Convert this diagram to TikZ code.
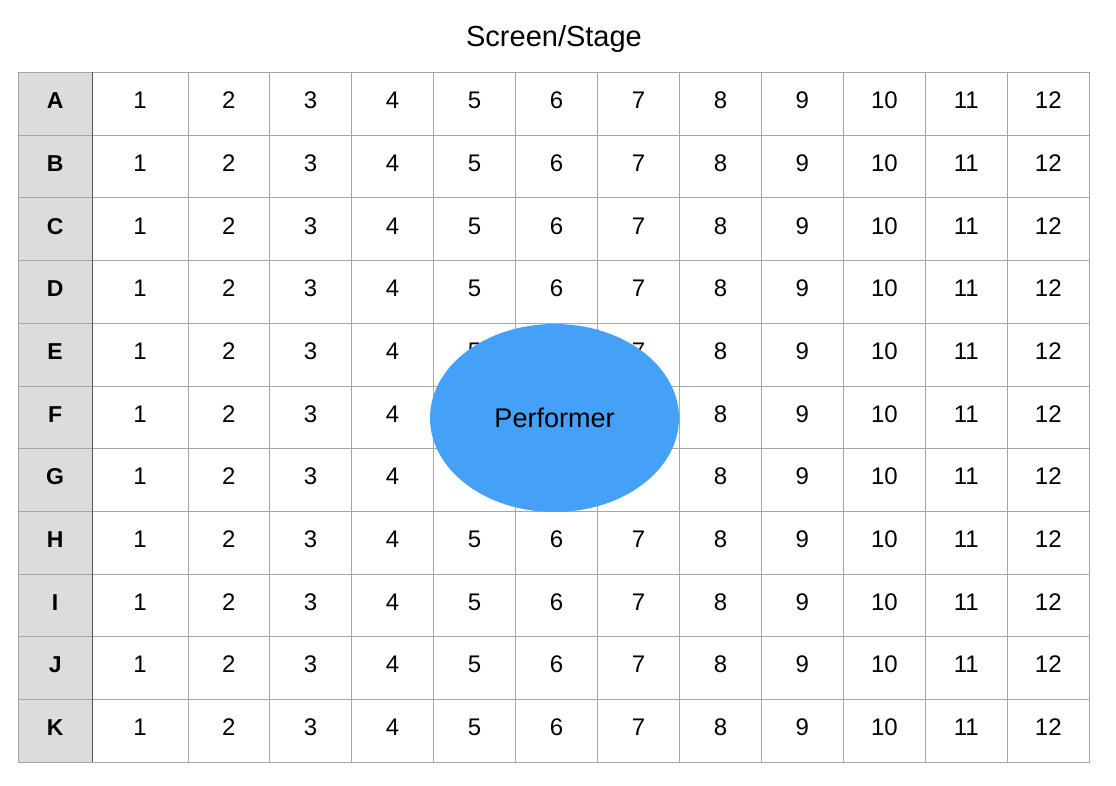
\documentclass[tikz,border=0pt]{standalone}
\usepackage{fontspec}
\setmainfont{Liberation Sans}
\usetikzlibrary{shapes.geometric}
\definecolor{gridline}{HTML}{A6A6A6}
\definecolor{headfill}{HTML}{DCDCDC}
\definecolor{headline}{HTML}{555555}
\definecolor{performer}{HTML}{45A1F8}
\begin{document}
\begin{tikzpicture}[x=1pt, y=-1pt,
  every node/.style={font=\fontsize{24}{28}\selectfont},
  seat/.style={draw=gridline, minimum width=81.96pt, minimum height=62.7pt, inner sep=0pt,
    text height=17pt, text depth=7pt},
  rowhead/.style={seat, fill=headfill, minimum width=74.3pt, font=\bfseries\fontsize{23}{27}\selectfont},
  stage/.style={ellipse, fill=performer, minimum width=249pt, minimum height=188pt, font=\fontsize{27}{32}\selectfont}]
\useasboundingbox (0,0) rectangle (1116,786);
\node[font=\fontsize{29}{34}\selectfont] (title) at (554,39) {Screen/Stage};
% seating grid
\foreach \r [count=\i] in {A,...,K} {
  \node[rowhead] (row-\r) at (55.15, {72.3+62.7*(\i-0.5)}) {\r};
  \node[seat, minimum width=95.4pt] (\r-1) at (140, {72.3+62.7*(\i-0.5)}) {1};
  \foreach \c in {2,...,12}
    \node[seat] (\r-\c) at ({187.7+81.96*(\c-1.5)}, {72.3+62.7*(\i-0.5)}) {\c};
}
\draw[headline] (row-A.north east) -- (row-K.south east);
\node[stage] (performer) at (554.5,418) {Performer};
\end{tikzpicture}
\end{document}
